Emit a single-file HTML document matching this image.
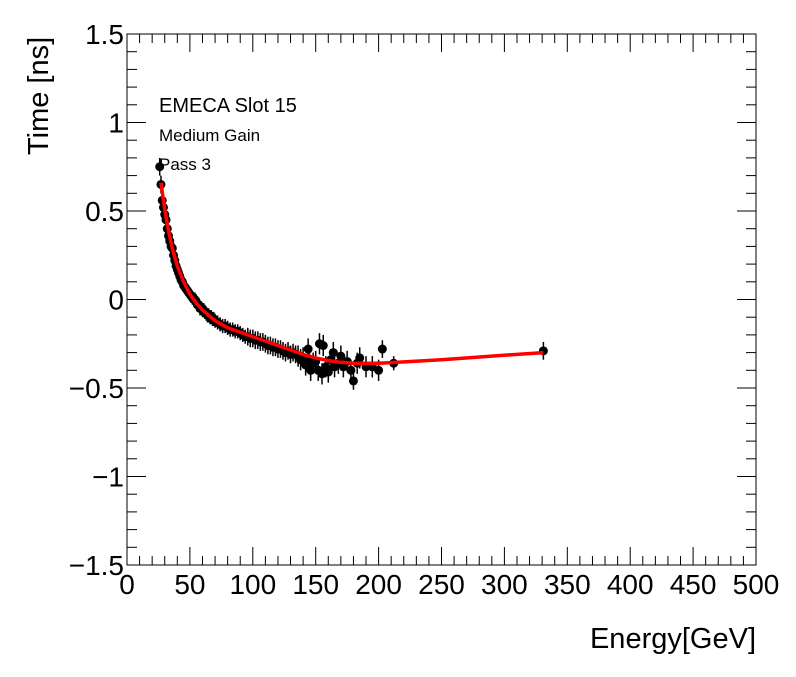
<!DOCTYPE html>
<html><head><meta charset="utf-8"><style>
body{margin:0;background:#fff;}
svg text{font-family:"Liberation Sans",sans-serif;}
</style></head><body>
<svg id="chart" width="796" height="672" viewBox="0 0 796 672" xmlns="http://www.w3.org/2000/svg">
<rect width="796" height="672" fill="#fff"/>
<g id="axes"></g>
<g id="points"></g>
<g id="fit"></g>
<text x="159" y="112" font-size="20">EMECA Slot 15</text>
<text x="159" y="141" font-size="17">Medium Gain</text>
<text x="159" y="170" font-size="17">Pass 3</text>
<text x="756" y="648" font-size="29" text-anchor="end">Energy[GeV]</text>
<text transform="translate(48,155) rotate(-90)" font-size="29" text-anchor="start">Time [ns]</text>
</svg>
<script>
const energies=[26,27,28,29,30,31,32,33,34,35,36,37,38,39,40,41,42,43,44,45,46,47,48,49,50,51,52,53,54,55,56,57,58,59,60,61,62,63,64,65,66,67,68,69,70,72,74,76,78,80,82,84,86,88,90,92,94,96,98,100,102,104,106,108,110,112,114,116,118,120,122,124,126,128,130,132,134,136,138,140,142,144,145,146,148,150,152,153,155,156,158,160,162,164,165,168,170,172,175,178,180,183,185,190,195,200,203,212,331];
const times=[0.75,0.65,0.56,0.52,0.48,0.45,0.40,0.36,0.33,0.30,0.29,0.25,0.22,0.19,0.17,0.15,0.13,0.11,0.10,0.08,0.07,0.06,0.05,0.04,0.03,0.02,0.01,0.00,0.00,-0.01,-0.03,-0.03,-0.05,-0.05,-0.06,-0.06,-0.07,-0.08,-0.09,-0.09,-0.10,-0.10,-0.11,-0.11,-0.12,-0.13,-0.14,-0.15,-0.15,-0.16,-0.17,-0.17,-0.18,-0.18,-0.19,-0.20,-0.21,-0.21,-0.22,-0.22,-0.23,-0.23,-0.24,-0.24,-0.25,-0.26,-0.26,-0.27,-0.27,-0.28,-0.28,-0.29,-0.30,-0.29,-0.31,-0.30,-0.31,-0.32,-0.34,-0.33,-0.37,-0.28,-0.35,-0.40,-0.36,-0.35,-0.40,-0.25,-0.42,-0.26,-0.38,-0.41,-0.34,-0.30,-0.38,-0.36,-0.32,-0.38,-0.35,-0.40,-0.46,-0.36,-0.33,-0.38,-0.38,-0.40,-0.28,-0.36,-0.29];
const errors=[0.05,0.05,0.04,0.04,0.04,0.04,0.04,0.04,0.04,0.04,0.04,0.04,0.04,0.04,0.04,0.04,0.04,0.04,0.04,0.04,0.04,0.04,0.04,0.04,0.04,0.04,0.04,0.04,0.04,0.04,0.04,0.04,0.04,0.04,0.04,0.04,0.04,0.04,0.04,0.04,0.04,0.04,0.04,0.04,0.04,0.04,0.04,0.04,0.04,0.04,0.04,0.04,0.04,0.04,0.04,0.04,0.04,0.05,0.05,0.05,0.05,0.05,0.05,0.05,0.05,0.05,0.05,0.05,0.05,0.05,0.05,0.05,0.05,0.05,0.05,0.05,0.05,0.06,0.06,0.06,0.06,0.06,0.06,0.06,0.06,0.06,0.06,0.06,0.06,0.06,0.06,0.06,0.06,0.06,0.06,0.06,0.06,0.06,0.06,0.06,0.05,0.06,0.06,0.06,0.06,0.06,0.05,0.04,0.05];
const fitE=[27,30,33,36,40,45,50,55,60,70,80,90,100,110,120,130,140,150,160,170,180,190,200,215,250,290,331];
const fitT=[0.66,0.51,0.39,0.29,0.19,0.10,0.03,-0.02,-0.06,-0.12,-0.16,-0.185,-0.21,-0.235,-0.26,-0.285,-0.31,-0.33,-0.345,-0.355,-0.36,-0.36,-0.36,-0.355,-0.34,-0.32,-0.30];
const xTicks=[0,50,100,150,200,250,300,350,400,450,500];
const yTicks=[1.5,1,0.5,0,-0.5,-1,-1.5];
const yTickLabels=["1.5","1","0.5","0","\u22120.5","\u22121","\u22121.5"];

const L=127,R=756,T=34,B=565;
const sx=v=>L+(v-0)/500*(R-L);
const sy=v=>B-(v+1.5)/3*(B-T);
const NS="http://www.w3.org/2000/svg";
function mk(tag,attrs,parent){const e=document.createElementNS(NS,tag);for(const k in attrs)e.setAttribute(k,attrs[k]);parent.appendChild(e);return e;}
const ax=document.getElementById('axes');
const frame=mk('rect',{x:L,y:T,width:R-L,height:B-T,fill:'none',stroke:'#000','stroke-width':1},ax);


for(let v=0;v<=500;v+=10){
  const major=v%50===0;const len=major?18:9;const x=sx(v);
  const t1=mk('line',{x1:x,x2:x,y1:B,y2:B-len,stroke:'#000'},ax);
  
  
  const t2=mk('line',{x1:x,x2:x,y1:T,y2:T+len,stroke:'#000'},ax);
  
  
}
for(let i=0;i<=30;i++){
  const v=-1.5+i*0.1;const major=i%5===0;const len=major?19:10;const y=sy(v);
  const t1=mk('line',{x1:L,x2:L+len,y1:y,y2:y,stroke:'#000'},ax);
  
  
  const t2=mk('line',{x1:R,x2:R-len,y1:y,y2:y,stroke:'#000'},ax);
  
  
}
xTicks.forEach(v=>{const t=mk('text',{x:sx(v),y:B+29,'font-size':28,'text-anchor':'middle'},ax);t.textContent=v;
  
  });
yTicks.forEach((v,i)=>{const t=mk('text',{x:L-3,y:sy(v)+10,'font-size':28,'text-anchor':'end'},ax);t.textContent=yTickLabels[i];
  
  });
const pg=document.getElementById('points');
energies.forEach((e,i)=>{
  const x=sx(e),y=sy(times[i]);
  const bar=mk('line',{x1:x,x2:x,y1:sy(times[i]+errors[i]),y2:sy(times[i]-errors[i]),stroke:'#000','stroke-width':1.5},pg);
  
  
  const c=mk('circle',{cx:x,cy:y,r:4.5,fill:'#000'},pg);
  
  
});
const fg=document.getElementById('fit');
const d=fitE.map((e,i)=>(i?'L':'M')+sx(e).toFixed(1)+','+sy(fitT[i]).toFixed(1)).join(' ');
const p=mk('path',{d:d,fill:'none',stroke:'#ff0000','stroke-width':3.5},fg);


</script>
</body></html>
